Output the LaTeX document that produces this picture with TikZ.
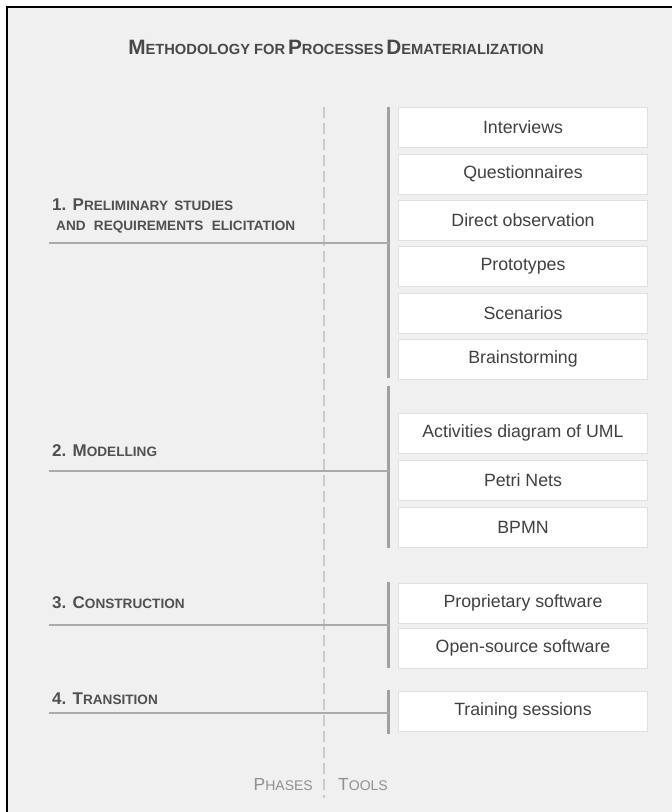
\documentclass[tikz,border=0pt]{standalone}
\usepackage{fontspec}
\setmainfont{Liberation Sans}
\definecolor{bgc}{HTML}{F0F0F0}
\definecolor{txt}{HTML}{404040}
\definecolor{ttl}{HTML}{505050}
\definecolor{bar}{HTML}{A0A0A0}
\definecolor{dsh}{HTML}{CACACA}
\definecolor{bxb}{HTML}{E0E0E0}
\definecolor{lgt}{HTML}{909090}
\newcommand\smc[4]{{\fontsize{#1}{#1}\selectfont #3}{\fontsize{#2}{#2}\selectfont #4}}
\begin{document}
\begin{tikzpicture}[x=1pt,y=-1pt,
  toolbox/.style={draw=bxb,line width=1pt,fill=white,minimum width=249pt,minimum height=40pt,inner sep=0pt,
    font=\fontsize{17.75}{17.75}\selectfont,text=txt},
  phase/.style={anchor=base west,text=ttl,font=\bfseries,inner sep=0pt},
  barline/.style={draw=bar,line width=2.7pt},
  hline/.style={draw=bar!90,line width=2pt}]
\useasboundingbox (0,0) rectangle (672,812);
\fill[white] (0,0) rectangle (672,812);
\fill[bgc] (7,7) rectangle (672,812);
\draw[black,line width=2.5pt] (7,812) -- (7,7) -- (672,7);

\node[text=ttl!90!black,font=\bfseries,inner sep=0pt,anchor=base] (title) at (336,54)
  {\smc{20.8}{14.7}{M}{ETHODOLOGY FOR} \smc{20.8}{14.7}{P}{ROCESSES} \smc{20.8}{14.7}{D}{EMATERIALIZATION}};

% dashed separator
\coordinate (dtop) at (324,107);
\coordinate (dbot) at (324,798);
\draw[dsh,line width=2pt,dash pattern=on 11pt off 5pt] (dtop) -- (dbot);

% tool boxes
\node[toolbox] (b1) at (523,127) {Interviews};
\node[toolbox] (b2) at (523,174) {Questionnaires};
\node[toolbox] (b3) at (523,220) {Direct observation};
\node[toolbox] (b4) at (523,266.5) {Prototypes};
\node[toolbox] (b5) at (523,313) {Scenarios};
\node[toolbox] (b6) at (523,359) {Brainstorming};
\node[toolbox] (b7) at (523,433) {Activities diagram of UML};
\node[toolbox] (b8) at (523,480) {Petri Nets};
\node[toolbox] (b9) at (523,527) {BPMN};
\node[toolbox] (b10) at (523,603) {Proprietary software};
\node[toolbox] (b11) at (523,648) {Open-source software};
\node[toolbox] (b12) at (523,711) {Training sessions};

% bars
\coordinate (g1t) at (388.7,107); \coordinate (g1b) at (388.7,378);
\coordinate (g2t) at (388.7,386); \coordinate (g2b) at (388.7,548);
\coordinate (g3t) at (388.7,582); \coordinate (g3b) at (388.7,668);
\coordinate (g4t) at (388.7,690); \coordinate (g4b) at (388.7,734);
\draw[barline] (g1t) -- (g1b);
\draw[barline] (g2t) -- (g2b);
\draw[barline] (g3t) -- (g3b);
\draw[barline] (g4t) -- (g4b);

% phase branches
\coordinate (h1a) at (49,243); \coordinate (h1b) at (388.7,243);
\coordinate (h2a) at (49,470.5); \coordinate (h2b) at (388.7,470.5);
\coordinate (h3a) at (49,624.5); \coordinate (h3b) at (388.7,624.5);
\coordinate (h4a) at (49,713); \coordinate (h4b) at (388.7,713);
\draw[hline] (h1a) -- (h1b);
\draw[hline] (h2a) -- (h2b);
\draw[hline] (h3a) -- (h3b);
\draw[hline] (h4a) -- (h4b);

% phase labels
\node[phase] (p1) at (52,210) {\hbox to 181pt{\smc{17}{13.6}{1. P}{RELIMINARY}\hfill\smc{17}{13.6}{}{STUDIES}}};
\node[phase] (p1b) at (56,230.5) {\hbox to 239pt{\smc{17}{13.6}{}{AND}\hfill\smc{17}{13.6}{}{REQUIREMENTS}\hfill\smc{17}{13.6}{}{ELICITATION}}};
\node[phase] (p2) at (52,456) {\smc{17}{13.6}{2. M}{ODELLING}};
\node[phase] (p3) at (52,608) {\smc{17}{13.6}{3. C}{ONSTRUCTION}};
\node[phase] (p4) at (52,704) {\smc{17}{13.6}{4. T}{RANSITION}};

% footer
\node[anchor=base east,text=lgt,inner sep=0pt] (ph) at (313,790) {\smc{17.5}{14}{P}{HASES}};
\node[anchor=base west,text=lgt,inner sep=0pt] (tl) at (338,790) {\smc{17.5}{14}{T}{OOLS}};
\end{tikzpicture}
\end{document}
